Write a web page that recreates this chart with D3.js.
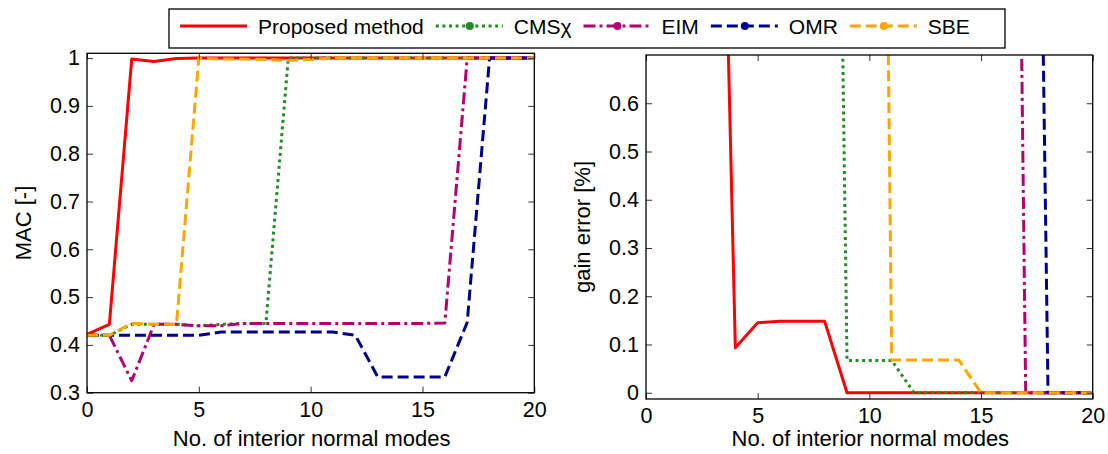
<!DOCTYPE html>
<html>
<head>
<meta charset="utf-8">
<script src="https://cdn.jsdelivr.net/npm/d3@7"></script>
<style>
  body { margin: 0; background: #fff; }
  text { font-family: "Liberation Sans", Arial, sans-serif; fill: #000; }
</style>
</head>
<body>
<svg id="chart" width="1108" height="454"></svg>
<script>
// number of interior normal modes
let modes = [0, 1, 2, 3, 4, 5, 6, 7, 8, 9, 10, 11, 12, 13, 14, 15, 16, 17, 18, 19, 20];

let methodNames = ["Proposed method", "CMS\u03c7", "EIM", "OMR", "SBE"];

// MAC [-]
let macProposed = [0.422, 0.443, 0.998, 0.993, 0.999, 1, 1, 1, 1, 1, 1, 1, 1, 1, 1, 1, 1, 1, 1, 1, 1];
let macCMS = [0.42, 0.42, 0.443, 0.443, 0.443, 0.44, 0.443, 0.445, 0.445, 1, 1, 1, 1, 1, 1, 1, 1, 1, 1, 1, 1];
let macEIM = [0.42, 0.42, 0.325, 0.443, 0.443, 0.44, 0.44, 0.445, 0.445, 0.445, 0.445, 0.445, 0.445, 0.445, 0.445, 0.445, 0.446, 1, 1, 1, 1];
let macOMR = [0.42, 0.42, 0.42, 0.42, 0.42, 0.42, 0.427, 0.427, 0.427, 0.427, 0.427, 0.427, 0.42, 0.333, 0.333, 0.333, 0.333, 0.447, 1, 1, 1];
let macSBE = [0.42, 0.42, 0.445, 0.443, 0.443, 1, 0.998, 0.998, 0.997, 0.995, 0.997, 1, 1, 1, 1, 1, 1, 1, 1, 1, 1];

// gain error [%] (values above 0.7 run off the top of the plot)
let gainProposed = [9.5, 6.2, 4.1, 2.05, 0.093, 0.145, 0.148, 0.148, 0.148, 0, 0, 0, 0, 0, 0, 0, 0, 0, 0, 0, 0];
let gainCMS = [9.5, 7.4, 6.3, 5.6, 5.1, 4.6, 4.2, 3.8, 3.4, 0.067, 0.067, 0.067, 0, 0, 0, 0, 0, 0, 0, 0, 0];
let gainEIM = [9.5, 8.8, 8.1, 7.6, 7.1, 6.7, 6.3, 6.0, 5.7, 5.4, 5.1, 4.9, 4.7, 4.5, 4.3, 4.1, 3.9, 0, 0, 0, 0];
let gainOMR = [9.5, 8.9, 8.3, 7.8, 7.3, 6.9, 6.5, 6.1, 5.8, 5.5, 5.2, 4.9, 4.6, 4.3, 4.0, 3.8, 3.5, 3.3, 0, 0, 0];
let gainSBE = [9.5, 8.6, 7.9, 7.3, 6.8, 6.3, 5.8, 5.4, 5.0, 4.6, 4.3, 0.068, 0.068, 0.068, 0.068, 0, 0, 0, 0, 0, 0];

let xTicks = [0, 5, 10, 15, 20];
let macTicks = [0.3, 0.4, 0.5, 0.6, 0.7, 0.8, 0.9, 1];
let gainTicks = [0, 0.1, 0.2, 0.3, 0.4, 0.5, 0.6];

let styles = [
  { color: "#ff0000", dash: null, marker: false },
  { color: "#228b22", dash: "3,3.6", marker: true },
  { color: "#b4006e", dash: "12,4,3,4", marker: true },
  { color: "#00008b", dash: "11,5", marker: true },
  { color: "#ffa500", dash: "11,5", marker: true }
];

let svg = d3.select("#chart");
svg.append("rect").attr("width", 1108).attr("height", 454).attr("fill", "#fff");

function makePanel(id, box, yDomain, yTicks, series, yLabel) {
  let x = d3.scaleLinear().domain([0, 20]).range([box.left, box.right]);
  let y = d3.scaleLinear().domain(yDomain).range([box.bottom, box.top]);

  svg.append("clipPath").attr("id", "clip" + id)
    .append("rect")
    .attr("x", box.left).attr("y", box.top)
    .attr("width", box.right - box.left).attr("height", box.bottom - box.top);

  let line = d3.line()
    .x(function(d, i) { return x(modes[i]); })
    .y(function(d) { return y(d); });

  let g = svg.append("g").attr("clip-path", "url(#clip" + id + ")");
  series.forEach(function(values, i) {
    g.append("path")
      .datum(values)
      .attr("d", line)
      .attr("fill", "none")
      .attr("stroke", styles[i].color)
      .attr("stroke-width", 3)
      .attr("stroke-linejoin", "round")
      .attr("stroke-dasharray", styles[i].dash);
  });

  let fmt = d3.format("~g");

  svg.append("g")
    .attr("transform", "translate(0," + box.bottom + ")")
    .call(d3.axisBottom(x).tickValues(xTicks).tickFormat(fmt).tickSizeInner(-6).tickSizeOuter(0).tickPadding(9));
  svg.append("g")
    .attr("transform", "translate(0," + box.top + ")")
    .call(d3.axisTop(x).tickValues(xTicks).tickFormat("").tickSizeInner(-6).tickSizeOuter(0));
  svg.append("g")
    .attr("transform", "translate(" + box.left + ",0)")
    .call(d3.axisLeft(y).tickValues(yTicks).tickFormat(fmt).tickSizeInner(-6).tickSizeOuter(0).tickPadding(7));
  svg.append("g")
    .attr("transform", "translate(" + box.right + ",0)")
    .call(d3.axisRight(y).tickValues(yTicks).tickFormat("").tickSizeInner(-6).tickSizeOuter(0));

  svg.selectAll(".tick text").style("font-size", "21.5px").attr("fill", "#000");
  svg.selectAll(".tick line").attr("stroke", "#333");
  svg.selectAll(".domain").attr("stroke", "none");

  svg.append("rect")
    .attr("x", box.left).attr("y", box.top)
    .attr("width", box.right - box.left).attr("height", box.bottom - box.top)
    .attr("fill", "none").attr("stroke", "#000").attr("stroke-width", 1.3);

  svg.append("text")
    .attr("x", (box.left + box.right) / 2 + 1)
    .attr("y", 446)
    .attr("text-anchor", "middle")
    .style("font-size", "22px")
    .text("No. of interior normal modes");

  svg.append("text")
    .attr("transform", "translate(" + (box.left - 56) + "," + ((box.top + box.bottom) / 2) + ") rotate(-90)")
    .attr("text-anchor", "middle")
    .style("font-size", "22px")
    .text(yLabel);
}

makePanel("L", { left: 87, right: 534.3, top: 53.3, bottom: 392.7 }, [0.3, 1.01], macTicks,
  [macProposed, macCMS, macEIM, macOMR, macSBE], "MAC [-]");
makePanel("R", { left: 646, right: 1092.7, top: 55, bottom: 399 }, [-0.013, 0.7], gainTicks,
  [gainProposed, gainCMS, gainEIM, gainOMR, gainSBE], "gain error [%]");

// legend
let legend = svg.append("g");
legend.append("rect")
  .attr("x", 169).attr("y", 9).attr("width", 836).attr("height", 39)
  .attr("fill", "#fff").attr("stroke", "#000").attr("stroke-width", 1.3);

let cursor = 180;
methodNames.forEach(function(name, i) {
  let s = styles[i];
  legend.append("line")
    .attr("x1", cursor).attr("x2", cursor + 67)
    .attr("y1", 26).attr("y2", 26)
    .attr("stroke", s.color).attr("stroke-width", 3)
    .attr("stroke-dasharray", s.dash);
  if (s.marker) {
    legend.append("circle")
      .attr("cx", cursor + 34).attr("cy", 26).attr("r", 4)
      .attr("fill", s.color);
  }
  let t = legend.append("text")
    .attr("x", cursor + 78).attr("y", 34)
    .style("font-size", "21px")
    .text(name);
  cursor = cursor + 78 + t.node().getComputedTextLength() + 12;
});
</script>
</body>
</html>
